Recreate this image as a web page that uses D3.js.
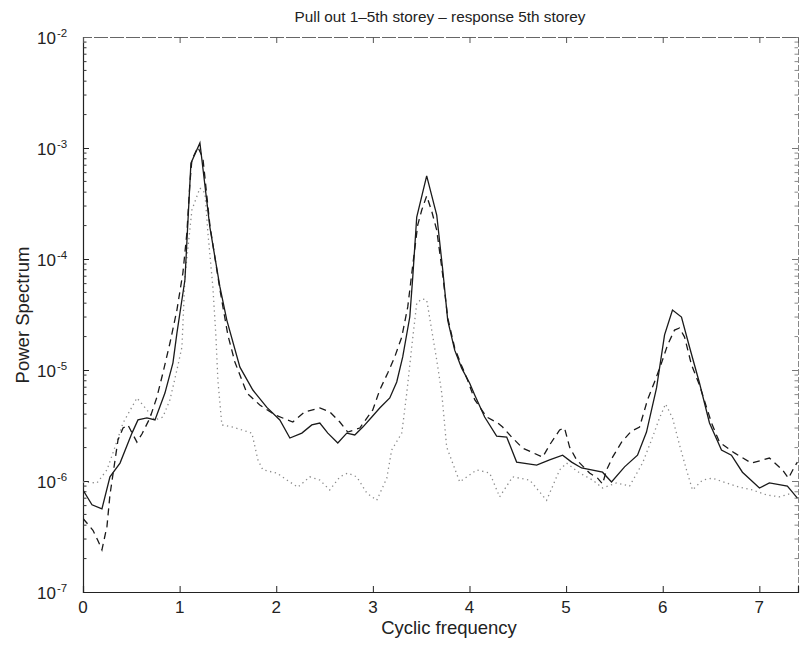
<!DOCTYPE html>
<html>
<head>
<meta charset="utf-8">
<script src="https://cdn.jsdelivr.net/npm/d3@7"></script>
<style>
  body { margin: 0; background: #fff; }
  svg { display: block; font-family: "Liberation Sans", Arial, Helvetica, sans-serif; }
</style>
</head>
<body>
<svg id="chart" width="800" height="646"></svg>
<script>
// Power spectra of the 5th storey response (three records)
const titleText = "Pull out 1\u20135th storey \u2013 response 5th storey";
const xLabel = "Cyclic frequency";
const yLabel = "Power Spectrum";
const xTicks = [0, 1, 2, 3, 4, 5, 6, 7];
const yExponents = [-7, -6, -5, -4, -3, -2];

const solidFreq = [0, 0.093, 0.196, 0.279, 0.383, 0.507, 0.569, 0.662, 0.745, 0.848, 0.931, 0.972,
  1.055, 1.117, 1.21, 1.313, 1.417, 1.489, 1.624, 1.758, 1.903, 2.037, 2.141, 2.265, 2.368, 2.451,
  2.534, 2.637, 2.73, 2.813, 2.896, 2.989, 3.071, 3.175, 3.247, 3.309, 3.382, 3.413, 3.454, 3.557,
  3.661, 3.723, 3.775, 3.847, 3.919, 4.002, 4.054, 4.157, 4.281, 4.385, 4.488, 4.695, 4.829, 4.964,
  5.057, 5.16, 5.377, 5.47, 5.605, 5.739, 5.832, 5.936, 6.019, 6.101, 6.194, 6.277, 6.381, 6.484,
  6.608, 6.711, 6.825, 7.001, 7.104, 7.29, 7.394];
const solidPower = [8.3e-7, 6.1e-7, 5.6e-7, 1.09e-6, 1.45e-6, 2.7e-6, 3.55e-6, 3.7e-6, 3.55e-6, 6.2e-6, 1.16e-5, 2.15e-5,
  6.5e-5, 7.3e-4, 1.11e-3, 1.94e-4, 5.6e-5, 2.8e-5, 1.06e-5, 6.6e-6, 4.6e-6, 3.55e-6, 2.44e-6, 2.7e-6, 3.2e-6, 3.33e-6,
  2.7e-6, 2.2e-6, 2.7e-6, 2.6e-6, 3.06e-6, 3.77e-6, 4.55e-6, 5.6e-6, 7.8e-6, 1.31e-5, 3.0e-5, 6.9e-5, 2.39e-4, 5.6e-4,
  2.49e-4, 8.0e-5, 2.8e-5, 1.51e-5, 1.04e-5, 7.6e-6, 5.96e-6, 3.77e-6, 2.54e-6, 2.49e-6, 1.48e-6, 1.39e-6, 1.55e-6, 1.71e-6,
  1.48e-6, 1.31e-6, 1.2e-6, 9.8e-7, 1.34e-6, 1.71e-6, 2.76e-6, 6.9e-6, 2.07e-5, 3.47e-5, 3.0e-5, 1.61e-5, 7.6e-6, 3.33e-6,
  1.9e-6, 1.71e-6, 1.2e-6, 8.65e-7, 9.6e-7, 9.0e-7, 7.0e-7];

const dashedFreq = [0, 0.103, 0.155, 0.196, 0.248, 0.279, 0.362, 0.414, 0.465, 0.558, 0.61, 0.693, 0.765,
  0.827, 0.9, 0.972, 1.034, 1.075, 1.106, 1.127, 1.189, 1.241, 1.313, 1.417, 1.499, 1.572, 1.696, 1.83,
  1.986, 2.172, 2.296, 2.451, 2.554, 2.658, 2.74, 2.865, 2.999, 3.071, 3.154, 3.226, 3.299, 3.361, 3.413,
  3.464, 3.506, 3.557, 3.609, 3.661, 3.723, 3.775, 3.847, 3.919, 3.981, 4.054, 4.178, 4.292, 4.343, 4.436,
  4.55, 4.757, 4.829, 4.933, 4.984, 5.036, 5.109, 5.243, 5.326, 5.377, 5.419, 5.481, 5.574, 5.677, 5.76,
  5.843, 5.915, 5.988, 6.05, 6.122, 6.174, 6.226, 6.298, 6.381, 6.505, 6.587, 6.742, 6.918, 7.104, 7.239,
  7.301, 7.363, 7.394];
const dashedPower = [4.6e-7, 3.6e-7, 2.9e-7, 2.4e-7, 3.9e-7, 7.5e-7, 2.34e-6, 3.0e-6, 3.2e-6, 2.24e-6, 2.65e-6, 3.7e-6, 5.7e-6,
  9.4e-6, 1.75e-5, 3.47e-5, 7.5e-5, 1.71e-4, 4.8e-4, 7.8e-4, 1.02e-3, 8.1e-4, 2.02e-4, 5.3e-5, 2.07e-5, 1.18e-5, 6.2e-6, 4.84e-6,
  3.94e-6, 3.4e-6, 4.2e-6, 4.55e-6, 4.2e-6, 3.4e-6, 2.76e-6, 3.0e-6, 4.37e-6, 6.6e-6, 9.4e-6, 1.31e-5, 1.98e-5, 3.7e-5, 8.8e-5,
  2.02e-4, 2.76e-4, 3.7e-4, 2.7e-4, 1.82e-4, 7.2e-5, 2.94e-5, 1.58e-5, 1.09e-5, 8.1e-6, 5.4e-6, 3.77e-6, 3.33e-6, 3.06e-6, 2.49e-6,
  1.98e-6, 1.64e-6, 2.11e-6, 2.88e-6, 3.0e-6, 2.02e-6, 1.55e-6, 1.18e-6, 1.06e-6, 9.4e-7, 1.26e-6, 1.64e-6, 2.24e-6, 2.82e-6, 3.06e-6,
  5.4e-6, 7.8e-6, 1.16e-5, 1.68e-5, 2.29e-5, 2.39e-5, 1.98e-5, 1.11e-5, 7.3e-6, 3.33e-6, 2.24e-6, 1.79e-6, 1.45e-6, 1.61e-6, 1.26e-6,
  1.06e-6, 1.34e-6, 1.48e-6];

const dottedFreq = [0, 0.145, 0.248, 0.331, 0.414, 0.507, 0.558, 0.662, 0.745, 0.827, 0.9, 0.972, 1.024,
  1.055, 1.127, 1.21, 1.262, 1.293, 1.344, 1.375, 1.396, 1.437, 1.551, 1.748, 1.81, 1.861, 2.006, 2.11,
  2.223, 2.347, 2.451, 2.554, 2.658, 2.74, 2.833, 2.937, 3.04, 3.144, 3.195, 3.299, 3.351, 3.402, 3.454,
  3.506, 3.557, 3.609, 3.661, 3.713, 3.764, 3.899, 4.074, 4.209, 4.312, 4.447, 4.623, 4.798, 4.933, 5.005,
  5.14, 5.274, 5.377, 5.522, 5.657, 5.791, 5.884, 5.967, 6.029, 6.101, 6.174, 6.246, 6.308, 6.412, 6.515,
  6.66, 6.794, 6.929, 7.073, 7.208, 7.342];
const dottedPower = [9.8e-7, 9.6e-7, 1.26e-6, 2.02e-6, 3.33e-6, 4.65e-6, 5.6e-6, 4.37e-6, 3.55e-6, 3.77e-6, 5.4e-6, 1.0e-5, 1.61e-5,
  6.9e-5, 2.76e-4, 4.36e-4, 3.94e-4, 1.71e-4, 5.6e-5, 2.07e-5, 8.1e-6, 3.2e-6, 3.06e-6, 2.7e-6, 1.55e-6, 1.26e-6, 1.18e-6, 1.02e-6,
  8.8e-7, 1.09e-6, 1.02e-6, 8.3e-7, 1.09e-6, 1.18e-6, 1.09e-6, 7.8e-7, 6.7e-7, 1.06e-6, 1.9e-6, 2.7e-6, 6.2e-6, 1.61e-5, 4.0e-5,
  4.37e-5, 4.28e-5, 2.29e-5, 1.23e-5, 6.2e-6, 2.02e-6, 9.8e-7, 1.26e-6, 1.18e-6, 7.2e-7, 1.09e-6, 1.02e-6, 6.7e-7, 1.26e-6, 1.45e-6,
  1.18e-6, 1.02e-6, 8.65e-7, 9.6e-7, 9.0e-7, 1.45e-6, 2.34e-6, 3.7e-6, 4.94e-6, 3.7e-6, 2.11e-6, 1.26e-6, 8.3e-7, 1.02e-6, 1.06e-6,
  9.6e-7, 8.8e-7, 8.3e-7, 7.5e-7, 7.2e-7, 7.8e-7];

const svg = d3.select("#chart");
const plot = { left: 83, right: 798, top: 37, bottom: 592 };

const x = d3.scaleLinear().domain([0, 7.4]).range([plot.left, plot.right]);
const y = d3.scaleLog().domain([1e-7, 1e-2]).range([plot.bottom, plot.top]);

// clip region for the curves
svg.append("defs").append("clipPath").attr("id", "plotClip")
  .append("rect").attr("x", plot.left).attr("y", plot.top)
  .attr("width", plot.right - plot.left).attr("height", plot.bottom - plot.top);

// minor log ticks (2..9 within each decade)
const minorTicks = [];
for (let e = -7; e < -2; e++) {
  for (let m = 2; m <= 9; m++) minorTicks.push(m * Math.pow(10, e));
}
const majorTicks = yExponents.map(e => Math.pow(10, e));

// left axis
const gLeft = svg.append("g").attr("transform", `translate(${plot.left},0)`);
gLeft.call(d3.axisLeft(y).tickValues(majorTicks).tickSize(-6).tickFormat(""));
gLeft.selectAll("line").attr("stroke", "#222");
gLeft.select(".domain").attr("stroke", "#222").attr("stroke-width", 1.2);
gLeft.selectAll(".minor").data(minorTicks).enter().append("line")
  .attr("x1", 0).attr("x2", 3.5).attr("y1", d => y(d)).attr("y2", d => y(d))
  .attr("stroke", "#333");

// right axis
const gRight = svg.append("g").attr("transform", `translate(${plot.right},0)`);
gRight.call(d3.axisRight(y).tickValues(majorTicks).tickSize(-6).tickFormat(""));
gRight.selectAll("line").attr("stroke", "#777");
gRight.select(".domain").attr("stroke", "#888").attr("stroke-dasharray", "6,2");
gRight.selectAll(".minor").data(minorTicks).enter().append("line")
  .attr("x1", 0).attr("x2", -3.5).attr("y1", d => y(d)).attr("y2", d => y(d))
  .attr("stroke", "#888");

// bottom axis
const gBottom = svg.append("g").attr("transform", `translate(0,${plot.bottom})`);
gBottom.call(d3.axisBottom(x).tickValues(xTicks).tickSize(-6).tickFormat(""));
gBottom.selectAll("line").attr("stroke", "#222");
gBottom.select(".domain").attr("stroke", "#222").attr("stroke-width", 1.2);

// top axis
const gTop = svg.append("g").attr("transform", `translate(0,${plot.top})`);
gTop.call(d3.axisTop(x).tickValues(xTicks).tickSize(-6).tickFormat(""));
gTop.selectAll("line").attr("stroke", "#555");
gTop.select(".domain").attr("stroke", "#666").attr("stroke-dasharray", "14,2");

// x tick labels
svg.append("g").selectAll("text").data(xTicks).enter().append("text")
  .attr("x", d => x(d)).attr("y", plot.bottom + 21)
  .attr("text-anchor", "middle").attr("font-size", 17).attr("fill", "#222")
  .text(d => d);

// y tick labels with superscript exponents
const yl = svg.append("g").selectAll("text").data(yExponents).enter().append("text")
  .attr("x", 37).attr("y", d => y(Math.pow(10, d)) + 7)
  .attr("text-anchor", "start").attr("font-size", 17).attr("fill", "#222");
yl.append("tspan").text("10");
yl.append("tspan").attr("dy", -7).attr("dx", 1).attr("font-size", 11.5).text(d => "-" + Math.abs(d));

// title and axis labels
svg.append("text").attr("x", 440).attr("y", 22).attr("text-anchor", "middle")
  .attr("font-size", 15.3).attr("fill", "#222").text(titleText);
svg.append("text").attr("x", 449).attr("y", 634).attr("text-anchor", "middle")
  .attr("font-size", 18.5).attr("fill", "#222").text(xLabel);
svg.append("text").attr("transform", "translate(29,315) rotate(-90)").attr("text-anchor", "middle")
  .attr("font-size", 18.5).attr("fill", "#222").text(yLabel);

// spectra
const line = d3.line().x(d => x(d[0])).y(d => y(d[1]));
const curves = svg.append("g").attr("clip-path", "url(#plotClip)");

curves.append("path").datum(d3.zip(dottedFreq, dottedPower))
  .attr("d", line).attr("fill", "none").attr("stroke", "#8a8a8a")
  .attr("stroke-width", 1.3).attr("stroke-dasharray", "1.3,3.5");
curves.append("path").datum(d3.zip(dashedFreq, dashedPower))
  .attr("d", line).attr("fill", "none").attr("stroke", "#1a1a1a")
  .attr("stroke-width", 1.3).attr("stroke-dasharray", "7,5");
curves.append("path").datum(d3.zip(solidFreq, solidPower))
  .attr("d", line).attr("fill", "none").attr("stroke", "#1a1a1a")
  .attr("stroke-width", 1.3);
</script>
</body>
</html>
